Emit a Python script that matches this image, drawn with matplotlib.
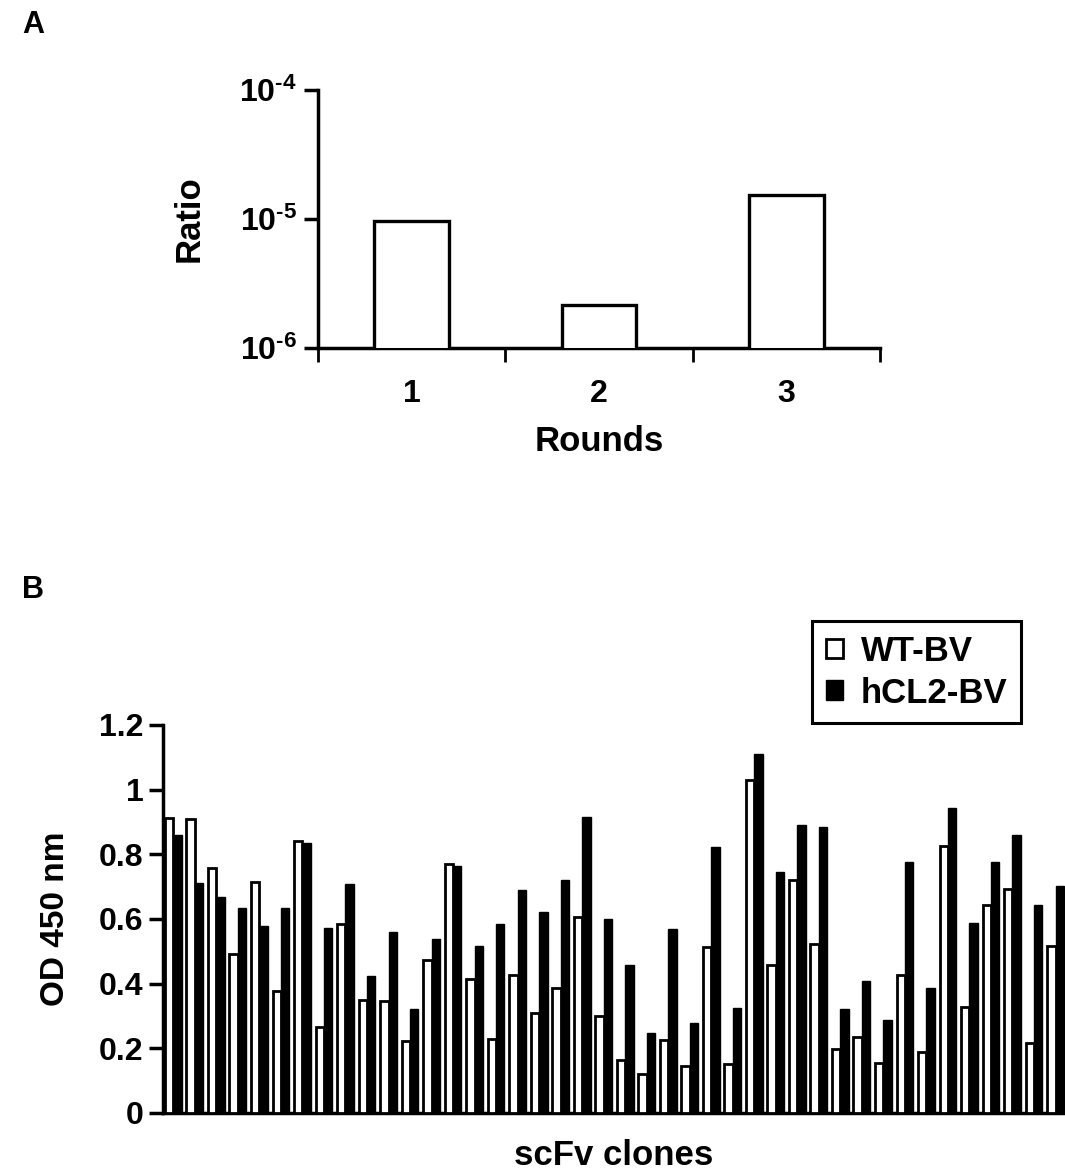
import matplotlib

matplotlib.use("Agg")

import matplotlib.pyplot as plt
import numpy as np
from matplotlib.patches import Patch

plt.rcParams["font.family"] = ["Liberation Sans", "DejaVu Sans"]
plt.rcParams["font.weight"] = "bold"
plt.rcParams["axes.labelweight"] = "bold"
plt.rcParams["mathtext.fontset"] = "custom"
plt.rcParams["mathtext.rm"] = "Liberation Sans:bold"
plt.rcParams["mathtext.bf"] = "Liberation Sans:bold"
plt.rcParams["mathtext.default"] = "rm"

# Panel A: enrichment ratio per panning round
rounds = ["1", "2", "3"]
ratio = [9.6e-6, 2.15e-6, 1.53e-5]
ratio_ticks = [1e-6, 1e-5, 1e-4]
ratio_labels = [r"$10^{\text{-}6}$", r"$10^{\text{-}5}$", r"$10^{\text{-}4}$"]

# Panel B: ELISA OD450 for 42 scFv clones
wt_bv = [0.913, 0.908, 0.758, 0.493, 0.715, 0.377, 0.841, 0.266, 0.584, 0.349,
         0.346, 0.223, 0.473, 0.770, 0.413, 0.229, 0.426, 0.310, 0.386, 0.606,
         0.299, 0.165, 0.120, 0.227, 0.144, 0.512, 0.153, 1.031, 0.457, 0.720,
         0.524, 0.199, 0.234, 0.155, 0.428, 0.188, 0.826, 0.328, 0.643, 0.694,
         0.216, 0.515]
hcl2_bv = [0.860, 0.710, 0.669, 0.633, 0.579, 0.633, 0.836, 0.571, 0.708, 0.424,
           0.559, 0.321, 0.539, 0.765, 0.516, 0.586, 0.689, 0.622, 0.721, 0.917,
           0.599, 0.457, 0.248, 0.568, 0.277, 0.822, 0.324, 1.109, 0.745, 0.890,
           0.886, 0.322, 0.408, 0.288, 0.777, 0.387, 0.944, 0.588, 0.775, 0.860,
           0.643, 0.702]
od_ticks = [0, 0.2, 0.4, 0.6, 0.8, 1.0, 1.2]
od_labels = ["0", "0.2", "0.4", "0.6", "0.8", "1", "1.2"]

W, H = 1065, 1176
fig = plt.figure(figsize=(W / 100, H / 100), dpi=100)

# ---- panel A ----
axa = fig.add_axes([318 / W, 1 - 348 / H, (880 - 318) / W, (348 - 90) / H])
axa.set_yscale("log")
xa = np.arange(1, len(rounds) + 1)
axa.bar(xa, ratio, width=0.4, color="white", edgecolor="black", linewidth=2.4,
        zorder=3)
axa.set_ylim(1e-6, 1e-4)
axa.set_xlim(0.5, 3.5)
axa.set_yticks(ratio_ticks)
axa.set_yticklabels(ratio_labels, fontsize=23)
axa.yaxis.set_minor_locator(matplotlib.ticker.NullLocator())
axa.set_xticks(np.arange(0.5, 4.0, 1.0))
axa.set_xticklabels([])
axa.set_xticks(xa, minor=True)
axa.set_xticklabels(rounds, minor=True, fontsize=23)
axa.tick_params(axis="x", which="major", length=10, width=2, direction="out")
axa.tick_params(axis="x", which="minor", length=0, pad=22)
axa.tick_params(axis="y", which="major", length=10, width=2.5, direction="out", pad=5)
for side in ("top", "right"):
    axa.spines[side].set_visible(False)
for side in ("left", "bottom"):
    axa.spines[side].set_linewidth(2.5)
axa.set_ylabel("Ratio", fontsize=25, labelpad=24)
axa.set_xlabel("Rounds", fontsize=25, labelpad=12)

# ---- panel B ----
axb = fig.add_axes([163 / W, 1 - 1113 / H, (W - 163) / W, (1113 - 725) / H])
xb = np.arange(len(wt_bv))
bw = 0.39
axb.bar(xb - bw / 2, wt_bv, width=bw, color="white", edgecolor="black",
        linewidth=2.0, zorder=3, label="WT-BV")
axb.bar(xb + bw / 2, hcl2_bv, width=bw, color="black", edgecolor="black",
        linewidth=1.0, zorder=3, label="hCL2-BV")
axb.set_xlim(-0.48, len(wt_bv) - 0.56)
axb.set_ylim(0, 1.2)
axb.set_yticks(od_ticks)
axb.set_yticklabels(od_labels, fontsize=23)
axb.set_xticks([])
axb.tick_params(axis="y", length=10, width=2.5, direction="out", pad=4)
for side in ("top", "right"):
    axb.spines[side].set_visible(False)
for side in ("left", "bottom"):
    axb.spines[side].set_linewidth(2.5)
axb.set_ylabel("OD 450 nm", fontsize=24, labelpad=20)
axb.set_xlabel("scFv clones", fontsize=25, labelpad=19)

handles = [Patch(facecolor="white", edgecolor="black", linewidth=2.0),
           Patch(facecolor="black", edgecolor="black")]
leg = fig.legend(handles, ["WT-BV", "hCL2-BV"], loc="upper left",
                 bbox_to_anchor=(812 / W, 1 - 621 / H), fontsize=25,
                 frameon=True, fancybox=False, handlelength=0.5,
                 handleheight=0.5, handletextpad=0.5, borderpad=0.4,
                 labelspacing=0.25, borderaxespad=0)
leg.get_frame().set_edgecolor("black")
leg.get_frame().set_linewidth(2.2)
leg.get_frame().set_alpha(1)

fig.text(22 / W, 1 - 25 / H, "A", fontsize=22, va="center", ha="left")
fig.text(22 / W, 1 - 590 / H, "B", fontsize=22, va="center", ha="left")

fig.savefig("out.png", dpi=100)
